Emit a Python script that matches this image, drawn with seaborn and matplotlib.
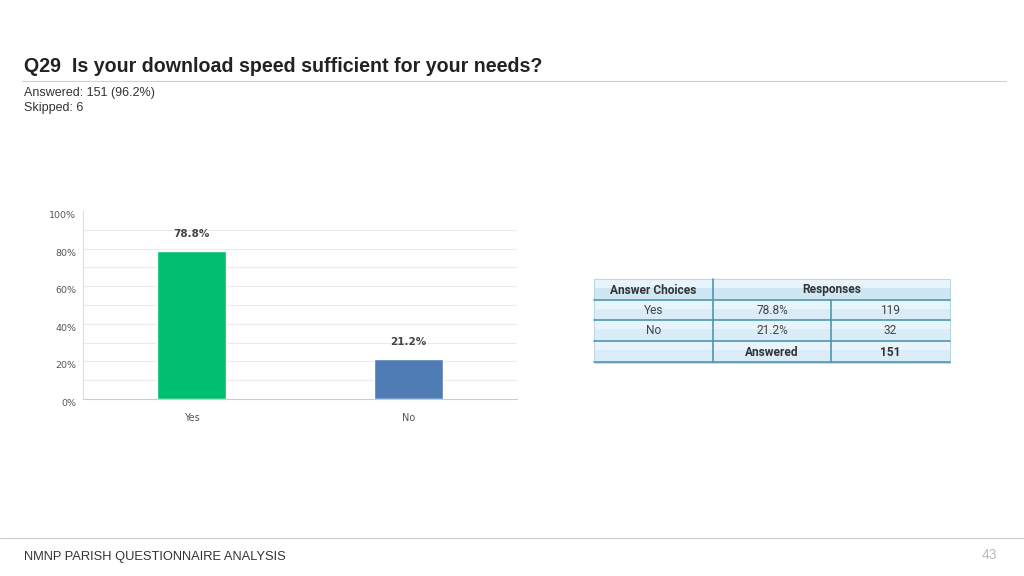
import numpy as np
import pandas as pd
import matplotlib
matplotlib.use("Agg")
import matplotlib.pyplot as plt
from matplotlib.patches import Rectangle
import seaborn as sns

# data
choices = ["Yes", "No"]
percents = [78.8, 21.2]
counts = [119, 32]
answered = 151
skipped = 6
answered_pct = 96.2
bar_colors = ["#00BF6F", "#507CB6"]

df = pd.DataFrame({"choice": choices, "pct": percents})

sns.set_style("white")
plt.rcParams["font.family"] = ["Liberation Sans", "DejaVu Sans"]

fig = plt.figure(figsize=(10.24, 5.76), dpi=100)
W, H = 1024, 576

def fx(px):
    return px / W

def fy(py):
    return 1 - py / H

# header
fig.text(fx(24), fy(66), "Q29  Is your download speed sufficient for your needs?",
         fontsize=14.1, fontweight="bold", color="#222222", va="center")
fig.add_artist(plt.Line2D([fx(22), fx(1006)], [fy(81), fy(81)], color="#d0d0d0", lw=0.8))
fig.text(fx(24), fy(93), f"Answered: {answered} ({answered_pct}%)", fontsize=9, color="#333333", va="center")
fig.text(fx(24), fy(108), f"Skipped: {skipped}", fontsize=9, color="#333333", va="center")

# footer
fig.add_artist(plt.Line2D([fx(0), fx(1024)], [fy(538), fy(538)], color="#cccccc", lw=0.8))
fig.text(fx(24), fy(557), "NMNP PARISH QUESTIONNAIRE ANALYSIS", fontsize=9.3, color="#333333", va="center")
fig.text(fx(997), fy(555), "43", fontsize=10, color="#bbbbbb", va="center", ha="right")

# bar chart
ax = fig.add_axes([fx(83), fy(399), fx(517) - fx(83), fy(211) - fy(399)])
sns.barplot(data=df, x="choice", y="pct", hue="choice", palette=bar_colors,
            width=0.32, legend=False, ax=ax, saturation=1)
ax.set_xlim(-0.5, 1.5)
ax.set_ylim(0, 100)
ax.set_yticks(np.arange(0, 101, 20))
ax.set_yticklabels([f"{v}%" for v in range(0, 101, 20)], fontsize=6.8, color="#555555",
                   family=["DejaVu Sans"])
for lab in ax.get_yticklabels():
    lab.set_verticalalignment("top")
ax.tick_params(axis="y", which="both", length=0, pad=5)
ax.tick_params(axis="x", length=0, pad=10, labelsize=7, labelcolor="#555555")
for lab in ax.get_xticklabels():
    lab.set_family(["DejaVu Sans"])
ax.set_axisbelow(True)
for v in range(10, 100, 10):
    ax.axhline(v, color="#ebebeb", lw=0.8, zorder=0)
ax.set_xlabel("")
ax.set_ylabel("")
for s in ["top", "right"]:
    ax.spines[s].set_visible(False)
ax.spines["left"].set_color("#dddddd")
ax.spines["bottom"].set_color("#cccccc")
for i, v in enumerate(percents):
    ax.text(i, v + 6.3, f"{v}%", ha="center", va="bottom", fontsize=7.5,
            fontweight="bold", color="#444444", family=["DejaVu Sans"])

# table
tx = fig.add_axes([0, 0, 1, 1])
tx.set_xlim(0, W)
tx.set_ylim(H, 0)
tx.axis("off")

left, right = 594, 950
col1, col2 = 713, 831
rows = [279, 300, 320, 341, 362]
edge = "#4f97ad"
tfont = ["Roboto", "DejaVu Sans"]

# shadow
tx.add_patch(Rectangle((left + 1, rows[0] + 2), right - left, rows[-1] - rows[0],
                       facecolor="#d8d8d8", edgecolor="none", zorder=1))
for r in range(4):
    top, bot = rows[r], rows[r + 1]
    tx.add_patch(Rectangle((left, top), right - left, bot - top,
                           facecolor="#cfe6f3" if r == 0 else "#d9ecf7",
                           edgecolor="none", zorder=2))
    tx.add_patch(Rectangle((left, top), right - left, (bot - top) * 0.45,
                           facecolor="#e8f4fb", edgecolor="none", zorder=2))
tx.add_patch(Rectangle((left, rows[0]), right - left, rows[-1] - rows[0],
                       facecolor="none", edgecolor="#b9d8e6", lw=0.8, zorder=3))
for y in rows[1:]:
    tx.plot([left, right], [y, y], color=edge, lw=1.2, zorder=3)
tx.plot([col1, col1], [rows[0], rows[-1]], color=edge, lw=1.2, zorder=3)
tx.plot([col2, col2], [rows[1], rows[-1]], color=edge, lw=1.2, zorder=3)

fs = 8.6
mid = lambda r: (rows[r] + rows[r + 1]) / 2 + 0.5
tx.text((left + col1) / 2, mid(0), "Answer Choices", ha="center", va="center",
        fontsize=fs, fontweight="bold", color="#333333", zorder=4, family=tfont)
tx.text((col1 + right) / 2, mid(0), "Responses", ha="center", va="center",
        fontsize=fs, fontweight="bold", color="#333333", zorder=4, family=tfont)
for i, c in enumerate(choices):
    tx.text((left + col1) / 2, mid(i + 1), c, ha="center", va="center",
            fontsize=fs, color="#444444", zorder=4, family=tfont)
    tx.text((col1 + col2) / 2, mid(i + 1), f"{percents[i]}%", ha="center", va="center",
            fontsize=fs, color="#444444", zorder=4, family=tfont)
    tx.text((col2 + right) / 2, mid(i + 1), str(counts[i]), ha="center", va="center",
            fontsize=fs, color="#444444", zorder=4, family=tfont)
tx.text((col1 + col2) / 2, mid(3), "Answered", ha="center", va="center",
        fontsize=fs, fontweight="bold", color="#333333", zorder=4, family=tfont)
tx.text((col2 + right) / 2, mid(3), str(answered), ha="center", va="center",
        fontsize=fs, fontweight="bold", color="#333333", zorder=4, family=tfont)

fig.savefig("out.png", dpi=100)
